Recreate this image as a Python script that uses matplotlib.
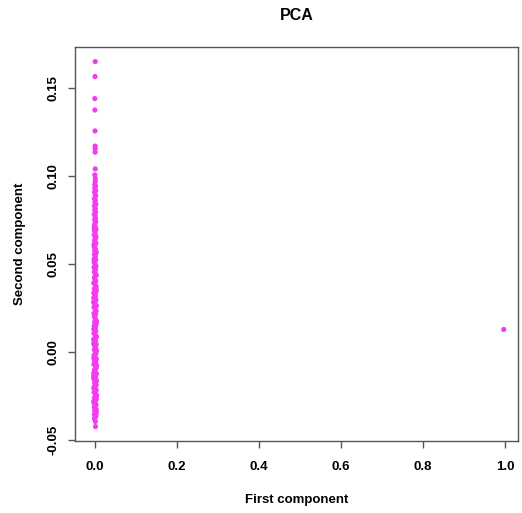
import matplotlib
matplotlib.use("Agg")
import matplotlib.pyplot as plt

plt.rcParams['font.family'] = ['Liberation Sans', 'DejaVu Sans']

# sparse points at the top of the column
top_x = [0.0005, 0.0000, -0.0005, -0.0003, 0.0000, 0.0003, 0.0004, 0.0002, 0.0005, -0.0004, 0.0008]
top_y = [0.1650, 0.1565, 0.1440, 0.1375, 0.1256, 0.1170, 0.1155, 0.1135, 0.1040, 0.1006, 0.0985]

# dense column near zero
dense_y = [
    0.0968, 0.0951, 0.0942, 0.0930, 0.0917, 0.0909, 0.0893, 0.0886, 0.0871, 0.0862,
    0.0850, 0.0838, 0.0829, 0.0815, 0.0806, 0.0794, 0.0781, 0.0775, 0.0760, 0.0752,
    0.0741, 0.0729, 0.0718, 0.0709, 0.0695, 0.0687, 0.0672, 0.0664, 0.0650, 0.0641,
    0.0632, 0.0619, 0.0608, 0.0597, 0.0585, 0.0577, 0.0563, 0.0554, 0.0542, 0.0531,
    0.0522, 0.0510, 0.0499, 0.0487, 0.0478, 0.0466, 0.0455, 0.0447, 0.0433, 0.0424,
    0.0412, 0.0403, 0.0391, 0.0380, 0.0371, 0.0359, 0.0348, 0.0339, 0.0326, 0.0317,
    0.0305, 0.0296, 0.0284, 0.0275, 0.0263, 0.0254, 0.0242, 0.0233, 0.0221, 0.0212,
    0.0201, 0.0190, 0.0181, 0.0169, 0.0160, 0.0148, 0.0139, 0.0127, 0.0118, 0.0106,
    0.0097, 0.0085, 0.0076, 0.0064, 0.0055, 0.0043, 0.0034, 0.0022, 0.0013, 0.0001,
    -0.0008, -0.0019, -0.0028, -0.0040, -0.0049, -0.0061, -0.0070, -0.0082, -0.0091, -0.0103,
    -0.0112, -0.0124, -0.0133, -0.0145, -0.0154, -0.0166, -0.0175, -0.0187, -0.0196, -0.0208,
    -0.0217, -0.0229, -0.0238, -0.0250, -0.0259, -0.0271, -0.0280, -0.0292, -0.0301, -0.0313,
    -0.0322, -0.0334, -0.0343, -0.0355, -0.0364, -0.0372, -0.0380, -0.0395, -0.0424, 0.0335,
    0.0481, 0.0437, 0.0392, 0.0351, 0.0308, 0.0262, 0.0219, 0.0173, 0.0129, 0.0088,
    0.0046, 0.0007, -0.0035, -0.0078, -0.0121, -0.0163, -0.0205, -0.0246, -0.0288, -0.0329,
    0.0702, 0.0655, 0.0611, 0.0569, 0.0527, 0.0283, 0.0071, -0.0142, -0.0267, -0.0352,
]
dense_x = [
    0.0006, -0.0008, 0.0012, -0.0004, 0.0018, -0.0011, 0.0003, 0.0015, -0.0015, 0.0009,
    -0.0002, 0.0021, -0.0013, 0.0007, -0.0006, 0.0016, -0.0018, 0.0002, 0.0012, -0.0009,
    0.0019, -0.0003, -0.0016, 0.0010, 0.0024, -0.0010, 0.0005, -0.0020, 0.0014, 0.0001,
    -0.0012, 0.0022, 0.0004, -0.0019, 0.0011, -0.0006, 0.0026, -0.0014, 0.0008, -0.0002,
    0.0017, -0.0021, 0.0003, 0.0025, -0.0009, 0.0013, -0.0017, 0.0006, 0.0020, -0.0012,
    -0.0004, 0.0016, -0.0022, 0.0009, 0.0028, -0.0015, 0.0002, 0.0019, -0.0008, 0.0011,
    -0.0019, 0.0024, 0.0005, -0.0011, 0.0015, -0.0024, 0.0008, 0.0027, -0.0005, 0.0012,
    -0.0016, 0.0003, 0.0022, -0.0009, 0.0031, -0.0020, 0.0010, -0.0003, 0.0018, -0.0025,
    0.0007, 0.0026, -0.0013, 0.0014, -0.0021, 0.0030, -0.0006, 0.0019, -0.0017, 0.0009,
    0.0023, -0.0024, 0.0004, 0.0033, -0.0010, 0.0016, -0.0027, 0.0011, 0.0028, -0.0014,
    0.0002, 0.0035, -0.0019, 0.0013, -0.0026, 0.0025, -0.0007, 0.0031, -0.0016, 0.0006,
    0.0029, -0.0023, 0.0010, 0.0034, -0.0012, 0.0021, -0.0028, 0.0005, 0.0024, -0.0018,
    0.0014, -0.0009, 0.0027, -0.0015, 0.0020, 0.0003, -0.0011, 0.0008, 0.0012, -0.0030,
    -0.0023, 0.0030, -0.0027, 0.0032, -0.0029, 0.0034, -0.0025, 0.0036, -0.0030, 0.0033,
    -0.0031, 0.0036, -0.0028, 0.0038, -0.0032, 0.0035, -0.0030, 0.0037, -0.0027, 0.0031,
    -0.0020, 0.0023, -0.0025, 0.0026, -0.0022, -0.0034, -0.0033, -0.0032, 0.0030, 0.0025,
]

# the single outlier
out_x = [0.997]
out_y = [0.0128]

xs = top_x + dense_x + out_x
ys = top_y + dense_y + out_y

xticks = [0.0, 0.2, 0.4, 0.6, 0.8, 1.0]
yticks = [-0.05, 0.00, 0.05, 0.10, 0.15]

fig = plt.figure(figsize=(5.22, 5.13), dpi=100)
ax = fig.add_axes([75/522, 1-441/513, 443/522, 394/513])

ax.scatter(xs, ys, s=14, color='#F23CF2', edgecolors='none')

ax.set_xlim(-0.0488, 1.0317)
ax.set_ylim(-0.0506, 0.1733)
ax.set_xticks(xticks)
ax.set_xticklabels(['%.1f' % v for v in xticks])
ax.set_yticks(yticks)
ax.set_yticklabels(['%.2f' % v for v in yticks], rotation=90, va='center')

for sp in ax.spines.values():
    sp.set_color('#555555')
    sp.set_linewidth(1.0)
ax.tick_params(direction='out', length=5, width=1, color='#555555')
ax.tick_params(axis='x', pad=9.5, labelsize=9.5)
ax.tick_params(axis='y', pad=6, labelsize=9.5)
for lab in ax.get_xticklabels() + ax.get_yticklabels():
    lab.set_fontweight('bold')

ax.set_xlabel('First component', fontsize=9.5, fontweight='bold')
ax.xaxis.label.set_va('center')
ax.xaxis.set_label_coords(0.5, -0.15)
ax.set_ylabel('Second component', fontsize=9.5, fontweight='bold')
ax.yaxis.label.set_va('center')
ax.yaxis.set_label_coords(-0.124, 0.5)

ax.set_title('PCA', fontsize=11.5, fontweight='bold', y=1.081, va='center', pad=0)

fig.savefig('out.png', dpi=100)
